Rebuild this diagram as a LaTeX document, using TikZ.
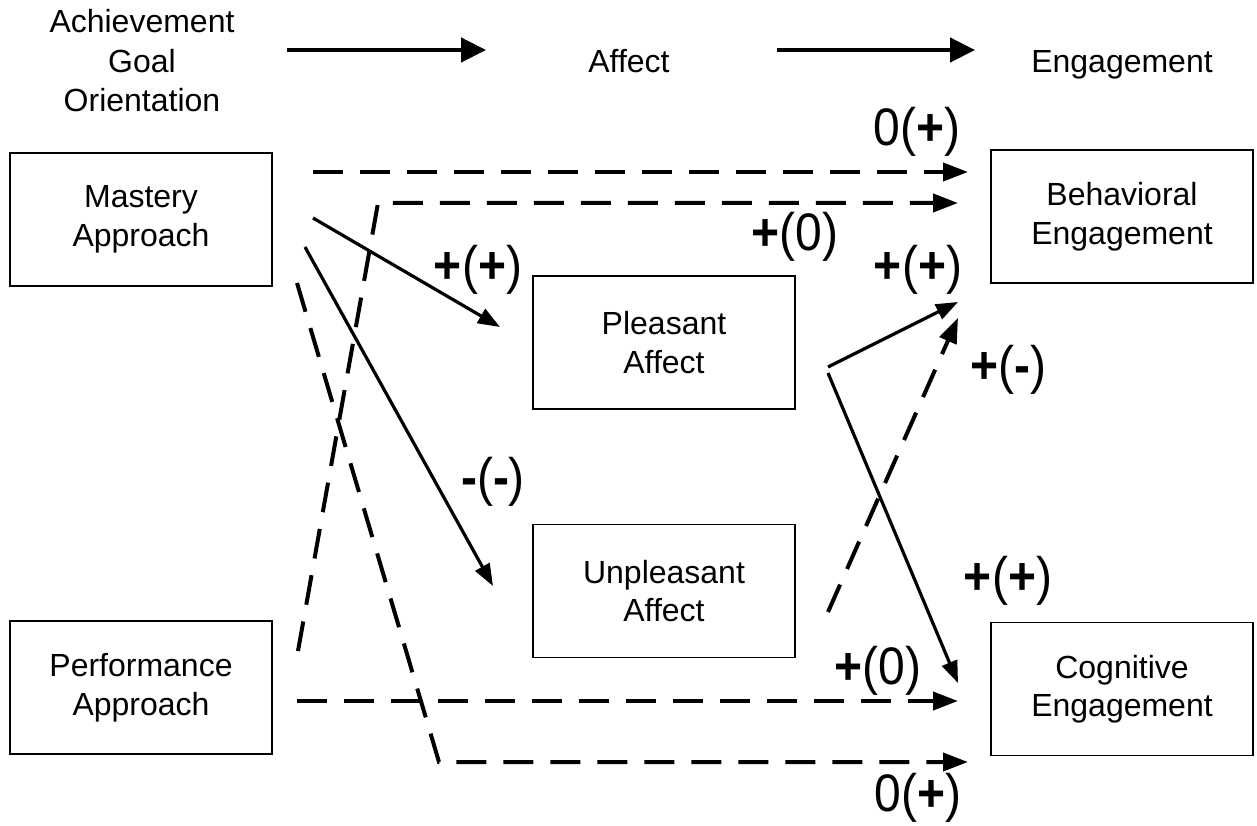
\documentclass[tikz,border=0pt]{standalone}
\usepackage{fontspec}
\usepackage{graphicx}
\setmainfont{Liberation Sans}
\usetikzlibrary{arrows.meta}
\newcommand{\stretchlbl}[1]{\scalebox{1}[1.1]{#1}}
\begin{document}
\begin{tikzpicture}[x=1pt,y=-1pt,
  box/.style={draw, line width=1.5pt, minimum width=262pt, minimum height=133pt,
    align=center, inner sep=0pt, font=\fontsize{32}{38.5}\selectfont},
  hdr/.style={align=center, inner sep=0pt, font=\fontsize{32}{39.5}\selectfont},
  lbl/.style={inner sep=0pt, font=\fontsize{48}{50}\selectfont},
  solidarrow/.style={line width=3.2pt, -{Triangle[length=22pt,width=16pt]}},
  dasharrow/.style={line width=4pt, dash pattern=on 30pt off 17pt,
    line join=miter, -{Triangle[length=25pt,width=18pt]}},
  toparrow/.style={line width=4.5pt, -{Triangle[length=25pt,width=24pt]}}]
\useasboundingbox (0,0) rectangle (1257,826);
\fill[white] (0,0) rectangle (1257,826);

% headers
\node[hdr] (hgoal) at (142,61) {Achievement\\Goal\\Orientation};
\node[hdr, anchor=base] (haff) at (629,73) {Affect};
\node[hdr, anchor=base] (heng) at (1122,73) {Engagement};
\coordinate (a1) at (287,50);
\coordinate (a2) at (486,50);
\coordinate (a3) at (777,50);
\coordinate (a4) at (975,50);
\draw[toparrow] (a1) -- (a2);
\draw[toparrow] (a3) -- (a4);

% boxes
\node[box] (mastery) at (141,219.5) {Mastery\\Approach};
\node[box] (perf) at (141,687.5) {Performance\\Approach};
\node[box] (pleasant) at (664,342.5) {Pleasant\\Affect};
\node[box] (unpleasant) at (664,591) {Unpleasant\\Affect};
\node[box] (behav) at (1122,216.5) {Behavioral\\Engagement};
\node[box] (cogn) at (1122,689) {Cognitive\\Engagement};

% connector end points
\coordinate (m1) at (313,172);   \coordinate (b1) at (968,172);
\coordinate (p1) at (298,651);   \coordinate (k1) at (378,203);  \coordinate (b2) at (958,203);
\coordinate (m2) at (313,218);   \coordinate (pl1) at (500,327);
\coordinate (m3) at (305,247);   \coordinate (u1) at (493,586);
\coordinate (m4) at (297,283);   \coordinate (k2) at (439,762);  \coordinate (cg1) at (968,762);
\coordinate (p2) at (297,701);   \coordinate (cg2) at (958,701);
\coordinate (pl2) at (828,367);  \coordinate (b3) at (958,302);
\coordinate (pl3) at (828,373);  \coordinate (cg3) at (958,683);
\coordinate (u2) at (828,612);   \coordinate (b4) at (958,318);

% connectors
\draw[dasharrow] (m1) -- (b1);
\draw[dasharrow] (p1) -- (k1) -- (b2);
\draw[solidarrow] (m2) -- (pl1);
\draw[solidarrow] (m3) -- (u1);
\draw[dasharrow] (m4) -- (k2) -- (cg1);
\draw[dasharrow] (p2) -- (cg2);
\draw[solidarrow] (pl2) -- (b3);
\draw[solidarrow] (pl3) -- (cg3);
\draw[dasharrow] (u2) -- (b4);

% labels
\node[lbl] (l1) at (917,132) {\stretchlbl{0(\textbf{+})}};
\node[lbl] (l2) at (795,237) {\stretchlbl{\textbf{+}(0)}};
\node[lbl] (l3) at (478,270) {\stretchlbl{\textbf{+}(\textbf{+})}};
\node[lbl] (l4) at (918,270) {\stretchlbl{\textbf{+}(\textbf{+})}};
\node[lbl] (l5) at (1008,370) {\stretchlbl{\textbf{+}(\textbf{-})}};
\node[lbl] (l6) at (493,482) {\stretchlbl{\textbf{-}(\textbf{-})}};
\node[lbl] (l7) at (1008,581) {\stretchlbl{\textbf{+}(\textbf{+})}};
\node[lbl] (l8) at (878,671) {\stretchlbl{\textbf{+}(0)}};
\node[lbl] (l9) at (918,798) {\stretchlbl{0(\textbf{+})}};
\end{tikzpicture}
\end{document}
